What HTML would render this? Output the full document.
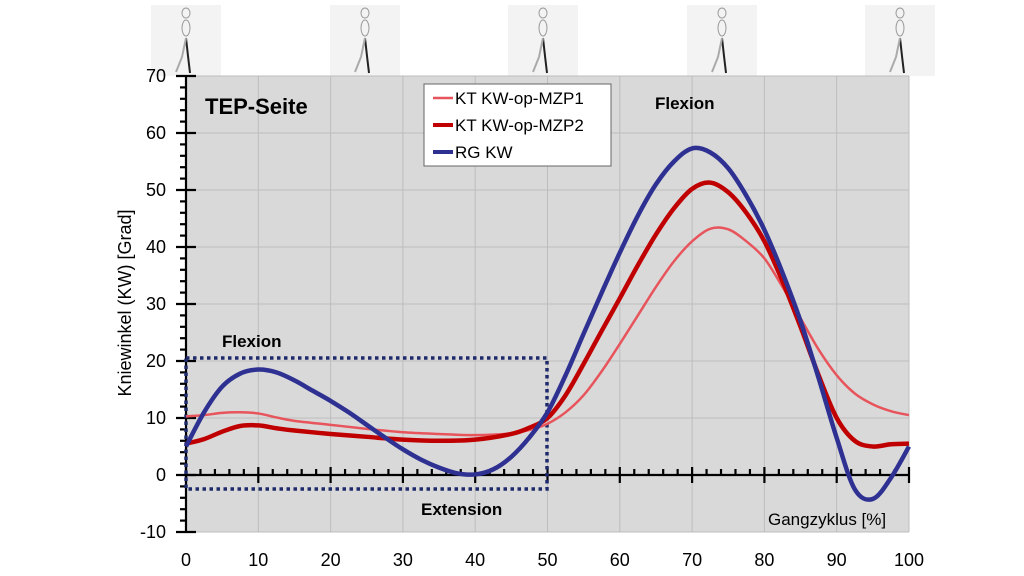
<!DOCTYPE html>
<html><head><meta charset="utf-8"><style>
html,body{margin:0;padding:0;background:#fff;}
svg{display:block;font-family:"Liberation Sans",sans-serif;}
</style></head><body>
<svg id="s" width="1024" height="576" viewBox="0 0 1024 576" xmlns="http://www.w3.org/2000/svg">
<g id="figs"></g>
<rect x="186" y="76" width="723" height="456" fill="#d9d9d9"/>
<g id="grid" stroke="#bdbdbd" stroke-width="1"></g>
<g id="axes" stroke="#000" stroke-width="2.2"></g>
<g id="lbl" font-size="18" fill="#000"></g>
<rect x="186" y="358" width="361" height="131" fill="none" stroke="#1f2a6b" stroke-width="3.5" stroke-dasharray="3.5 3.5"/>
<path id="p1" fill="none" stroke="#e8545c" stroke-width="2.5"/>
<path id="p2" fill="none" stroke="#c00000" stroke-width="4.5"/>
<path id="p3" fill="none" stroke="#2e3192" stroke-width="4.5"/>
<text x="205" y="114" font-size="22" font-weight="bold">TEP-Seite</text>
<text x="222" y="347" font-size="17" font-weight="bold">Flexion</text>
<text x="655" y="109" font-size="17" font-weight="bold">Flexion</text>
<text x="421" y="515" font-size="17" font-weight="bold">Extension</text>
<text x="768" y="525" font-size="17">Gangzyklus [%]</text>
<text transform="translate(131,303) rotate(-90)" font-size="18" text-anchor="middle">Kniewinkel (KW) [Grad]</text>
<rect x="424" y="84" width="187" height="82" fill="#fff" stroke="#666" stroke-width="1"/>
<line x1="433" y1="98" x2="453" y2="98" stroke="#e8545c" stroke-width="2.5"/>
<line x1="433" y1="125" x2="453" y2="125" stroke="#c00000" stroke-width="4"/>
<line x1="433" y1="152" x2="453" y2="152" stroke="#2e3192" stroke-width="4"/>
<text x="455" y="104" font-size="17">KT KW-op-MZP1</text>
<text x="455" y="131" font-size="17">KT KW-op-MZP2</text>
<text x="455" y="158" font-size="17">RG KW</text>
</svg>
<script>
var X=function(v){return 186+v*7.23},Y=function(v){return 475-v*5.7};
var ns="http://www.w3.org/2000/svg";
function el(p,t,a,txt){var e=document.createElementNS(ns,t);for(var k in a)e.setAttribute(k,a[k]);if(txt!=null)e.textContent=txt;document.getElementById(p).appendChild(e);}
for(var i=1;i<=10;i++)el("grid","line",{x1:X(i*10),x2:X(i*10),y1:76,y2:532});
for(var j=-1;j<=7;j++)if(j!=0)el("grid","line",{x1:186,x2:909,y1:Y(j*10),y2:Y(j*10)});
el("axes","line",{x1:186,x2:186,y1:76,y2:532});
el("axes","line",{x1:186,x2:909,y1:475,y2:475});
for(var v=-10;v<=70;v+=2){var m=v%10==0;el("axes","line",{x1:m?176:180,x2:m?196:186,y1:Y(v),y2:Y(v)});}
for(var v=0;v<=100;v+=2){var m=v%10==0;el("axes","line",{x1:X(v),x2:X(v),y1:m?467:469,y2:m?483:475});}
for(var j=-1;j<=7;j++)el("lbl","text",{x:166,y:Y(j*10)+6,"text-anchor":"end"},String(j*10));
for(var i=0;i<=10;i++)el("lbl","text",{x:X(i*10),y:566,"text-anchor":"middle"},String(i*10));
function path(d){var p=d.map(function(q){return[X(q[0]),Y(q[1])]});var s="M"+p[0][0]+","+p[0][1];
for(var i=0;i<p.length-1;i++){var a=p[i-1]||p[i],b=p[i],c=p[i+1],e=p[i+2]||c;
s+=" C"+(b[0]+(c[0]-a[0])/6)+","+(b[1]+(c[1]-a[1])/6)+" "+(c[0]-(e[0]-b[0])/6)+","+(c[1]-(e[1]-b[1])/6)+" "+c[0]+","+c[1];}return s;}
var d3=[[0,5],[2.5,11],[5,15.5],[7.5,17.8],[10,18.5],[12.5,18],[15,16.6],[17.5,14.8],[20,13],[22.5,11],[25,8.8],[27.5,6.6],[30,4.5],[32.5,2.7],[35,1.3],[37.5,0.3],[40,0.1],[42.5,1],[45,3.2],[47.5,6.6],[50,11],[52.5,17.5],[55,24.8],[57.5,32],[60,39],[62.5,45.5],[65,51],[67.5,55],[70,57.3],[72.5,56.6],[75,53.8],[77.5,49],[80,43],[82.5,35.5],[85,27],[87.5,17],[90,6.5],[92.5,-2.5],[95,-4.2],[97.5,-0.5],[100,5]];
var d2=[[0,5.5],[2.5,6.3],[5,7.6],[7.5,8.6],[10,8.7],[12.5,8.2],[15,7.8],[20,7.2],[25,6.7],[30,6.2],[35,6],[40,6.2],[45,7.2],[47.5,8.3],[50,10],[52.5,14],[55,19.5],[57.5,25.3],[60,31],[62.5,36.8],[65,42.2],[67.5,46.8],[70,50.2],[72.5,51.3],[75,49.6],[77.5,46],[80,41],[82.5,34],[85,26],[87.5,17.5],[90,10],[92.5,6],[95,5],[97.5,5.4],[100,5.5]];
var d1=[[0,10.3],[2.5,10.5],[5,10.9],[7.5,11],[10,10.8],[12.5,10.1],[15,9.5],[20,8.8],[25,8.1],[30,7.5],[35,7.2],[40,7],[45,7.3],[47.5,7.9],[50,9],[52.5,11],[55,14],[57.5,18.2],[60,23],[62.5,28],[65,33],[67.5,37.5],[70,41],[72.5,43.2],[75,43.1],[77.5,41],[80,38],[82.5,33],[85,27.5],[87.5,22],[90,17.5],[92.5,14.3],[95,12.4],[97.5,11.2],[100,10.5]];
document.getElementById("p1").setAttribute("d",path(d1));
document.getElementById("p2").setAttribute("d",path(d2));
document.getElementById("p3").setAttribute("d",path(d3));
[186,365,543,722,900].forEach(function(cx){
el("figs","rect",{x:cx-35,y:5,width:70,height:71,fill:"#f3f3f3"});
el("figs","ellipse",{cx:cx,cy:13,rx:4,ry:5,fill:"none",stroke:"#999"});
el("figs","ellipse",{cx:cx,cy:28,rx:4,ry:8,fill:"none",stroke:"#999"});
el("figs","path",{d:"M"+cx+",38 L"+(cx+2)+",56 L"+(cx+4)+",73",fill:"none",stroke:"#222","stroke-width":2});
el("figs","path",{d:"M"+cx+",38 L"+(cx-4)+",57 L"+(cx-10)+",72",fill:"none",stroke:"#aaa","stroke-width":2});
});
</script>
</body></html>
